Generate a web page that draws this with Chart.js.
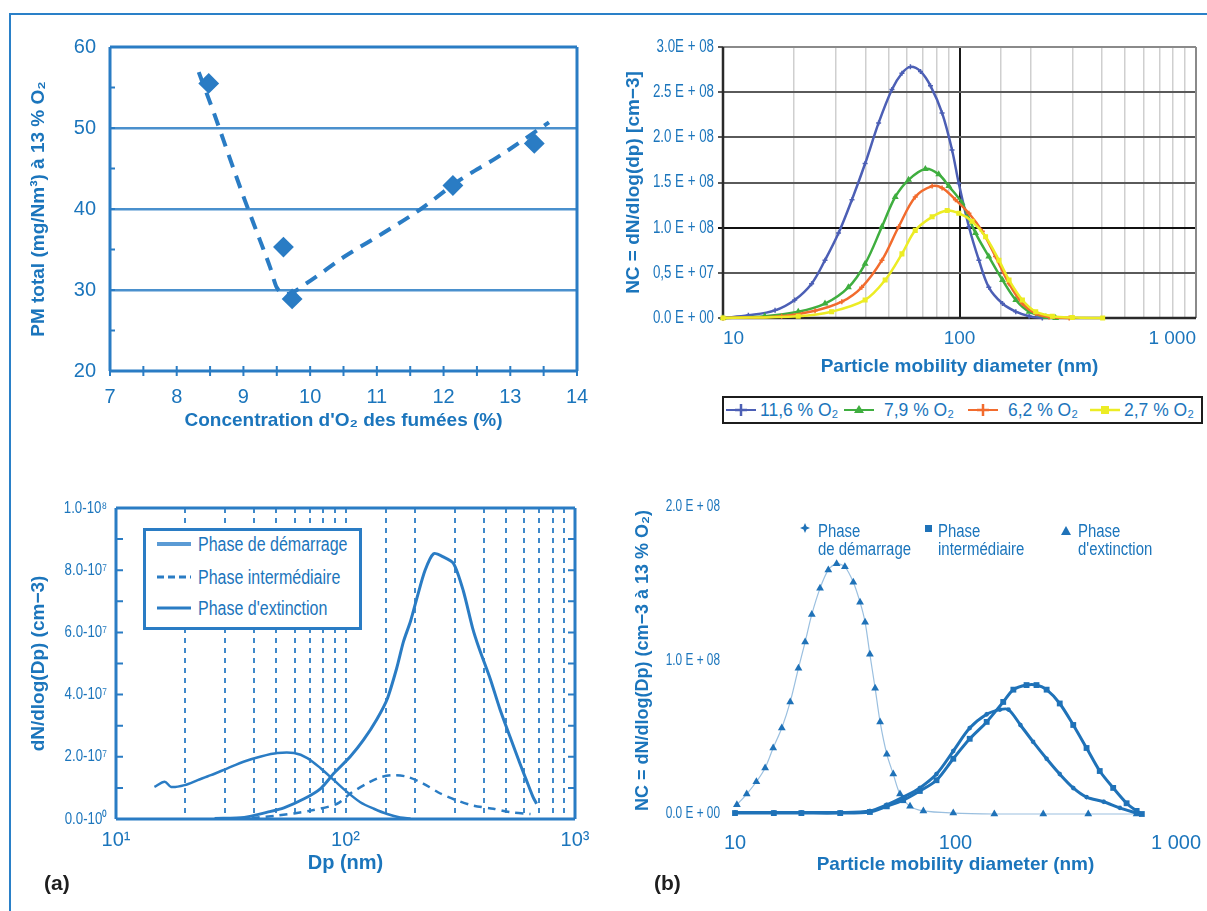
<!DOCTYPE html>
<html lang="fr">
<head>
<meta charset="utf-8">
<title>Particules fines - concentration O2</title>
<script src="https://cdn.jsdelivr.net/npm/chart.js@4.4.1/dist/chart.umd.min.js"></script>
<style>
  html, body { margin: 0; padding: 0; background: #fff; }
  #page { position: relative; width: 1207px; height: 911px; overflow: hidden; font-family: "Liberation Sans", Arial, sans-serif; }
  #page canvas { position: absolute; }
  .rule-top { position: absolute; left: 9px; top: 13px; width: 1198px; height: 2px; background: #2a80c8; }
  .rule-left { position: absolute; left: 9px; top: 13px; width: 2px; height: 898px; background: #2a80c8; }
  .tag { position: absolute; font-weight: bold; font-size: 21px; color: #1e1e1e; }
  .blue { color: #1b75bc; }
  .abs { position: absolute; white-space: nowrap; }
  #lg2 { position: absolute; left: 722px; top: 396px; width: 477px; height: 24px; border: 2px solid #1c1c1c; background: #fff; }
  #lg2 svg { position: absolute; top: 2px; }
  #lg2 span { position: absolute; top: 1px; font-size: 19px; line-height: 22px; white-space: nowrap; transform: scaleX(0.92); transform-origin: left center; }
  #lg3 { position: absolute; left: 143px; top: 528px; width: 213px; height: 96px; border: 3px solid #2a7cc4; background: #fff; }
  #lg3 svg { position: absolute; left: 11px; }
  #lg3 span { position: absolute; left: 52px; font-size: 20px; line-height: 22px; white-space: nowrap; transform: scaleX(0.8); transform-origin: left center; }
  .lg4 { position: absolute; font-size: 18px; line-height: 18px; white-space: nowrap; transform: scaleX(0.83); transform-origin: left top; }
</style>
</head>
<body>
<div id="page">
  <div class="rule-top"></div>
  <div class="rule-left"></div>

  <canvas id="c1" width="600" height="420" style="left:0;top:20px"></canvas>
  <canvas id="c2" width="607" height="380" style="left:600px;top:20px"></canvas>
  <canvas id="c3" width="600" height="430" style="left:0;top:460px"></canvas>
  <canvas id="c4" width="607" height="430" style="left:600px;top:460px"></canvas>

  <div id="lg2" class="blue">
    <svg width="30" height="20" style="left:2px"><line x1="0" y1="10" x2="30" y2="10" stroke="#4c5fb5" stroke-width="2"/><path d="M15 4 V16 M9 10 H21" stroke="#4c5fb5" stroke-width="2.5"/></svg>
    <span style="left:36px">11,6 % O₂</span>
    <svg width="30" height="20" style="left:120px"><line x1="0" y1="10" x2="30" y2="10" stroke="#3fae3f" stroke-width="2"/><path d="M15 5 L20 13 L10 13 Z" fill="#3fae3f"/></svg>
    <span style="left:160px">7,9 % O₂</span>
    <svg width="30" height="20" style="left:244px"><line x1="0" y1="10" x2="30" y2="10" stroke="#f26b2d" stroke-width="2"/><path d="M15 4 V16 M9 10 H21" stroke="#f26b2d" stroke-width="2.5"/></svg>
    <span style="left:284px">6,2 % O₂</span>
    <svg width="30" height="20" style="left:366px"><line x1="0" y1="10" x2="30" y2="10" stroke="#ecec24" stroke-width="2.5"/><rect x="11" y="6" width="8" height="8" fill="#ecec24"/></svg>
    <span style="left:400px">2,7 % O₂</span>
  </div>

  <div id="lg3" class="blue">
    <svg width="36" height="10" style="top:8px"><line x1="0" y1="5" x2="34" y2="5" stroke="#5b9bd5" stroke-width="4"/></svg>
    <span style="top:2px">Phase de démarrage</span>
    <svg width="36" height="10" style="top:41px"><line x1="0" y1="5" x2="34" y2="5" stroke="#2a7cc4" stroke-width="3" stroke-dasharray="7 4"/></svg>
    <span style="top:35px">Phase intermédiaire</span>
    <svg width="36" height="10" style="top:72px"><line x1="0" y1="5" x2="34" y2="5" stroke="#2a7cc4" stroke-width="3"/></svg>
    <span style="top:66px">Phase d'extinction</span>
  </div>

  <svg class="abs" width="12" height="12" style="left:799px;top:522px"><path d="M6 1 L7.5 4.5 L11 6 L7.5 7.5 L6 11 L4.5 7.5 L1 6 L4.5 4.5 Z" fill="#1f72b8"/></svg>
  <div class="lg4 blue" style="left:818px;top:522px">Phase<br>de démarrage</div>
  <svg class="abs" width="10" height="10" style="left:924px;top:524px"><rect x="1" y="1" width="7" height="7" fill="#1f72b8"/></svg>
  <div class="lg4 blue" style="left:938px;top:522px">Phase<br>intermédiaire</div>
  <svg class="abs" width="12" height="12" style="left:1060px;top:525px"><path d="M6 1 L11 10 L1 10 Z" fill="#1f72b8"/></svg>
  <div class="lg4 blue" style="left:1078px;top:522px">Phase<br>d'extinction</div>

  <div class="tag" style="left:44px;top:871px">(a)</div>
  <div class="tag" style="left:654px;top:871px">(b)</div>
</div>

<script>
// ---- haut gauche : PM total selon O2 des fumées ----
const o2Conc = [8.48, 9.6, 9.73, 12.14, 13.36];
const pmTotal = [55.5, 35.3, 28.9, 42.9, 48.1];
const trendO2 = [8.33, 8.56, 8.79, 9.02, 9.25, 9.40, 9.50, 9.65, 9.94, 10.51, 11.09, 11.66, 12.23, 12.81, 13.58];
const trendPm = [56.9, 51.8, 46.4, 41.1, 36.1, 32.8, 30.3, 29.5, 30.8, 34.1, 37.0, 40.0, 43.5, 46.4, 50.7];

// ---- haut droite : distributions en nombre (x 1E+08 cm-3) ----
const dp116 = [10, 12.8, 16.6, 20.1, 23.7, 27.0, 30.8, 35.1, 39.9, 45.5, 51.8, 57.1, 62.0, 68.4, 75.4, 84.4, 93.0, 99.3, 109.6, 120.8, 133, 152, 173, 197, 224];
const nc116 = [0, 0.03, 0.085, 0.20, 0.38, 0.64, 0.94, 1.31, 1.71, 2.16, 2.53, 2.71, 2.78, 2.73, 2.57, 2.27, 1.86, 1.49, 1.01, 0.64, 0.34, 0.16, 0.07, 0.02, 0];
const dp79 = [10, 15, 20.8, 27, 33.9, 39.9, 47, 53.5, 60.9, 71.7, 81.7, 90.1, 102.6, 116.9, 133, 152, 173, 197, 232, 255];
const nc79 = [0, 0.02, 0.07, 0.16, 0.34, 0.60, 1.01, 1.34, 1.53, 1.65, 1.59, 1.46, 1.27, 0.94, 0.68, 0.42, 0.20, 0.07, 0.01, 0];
const dp62 = [10, 17.7, 24.5, 31.8, 38.6, 47, 55.3, 65, 76.6, 84.4, 96.1, 109.6, 124.8, 142, 162, 184.5, 210, 239, 291];
const nc62 = [0, 0.02, 0.08, 0.18, 0.34, 0.64, 1.01, 1.34, 1.46, 1.44, 1.31, 1.16, 0.96, 0.68, 0.38, 0.16, 0.05, 0.01, 0];
const dp27 = [10, 20.8, 28.8, 39.9, 48.5, 57.1, 65, 76.6, 88.7, 99.3, 113, 128.9, 146.8, 162, 184.5, 210, 247, 300, 403];
const nc27 = [0, 0.02, 0.07, 0.20, 0.42, 0.71, 0.97, 1.12, 1.19, 1.16, 1.07, 0.90, 0.64, 0.42, 0.20, 0.07, 0.02, 0.005, 0];
const ncTickLabels = ['0.0 E + 00', '0,5 E + 07', '1.0 E + 08', '1.5 E + 08', '2.0 E + 08', '2.5 E + 08', '3.0E + 08'];
const sizeTicks = [10, 100, 1000];
const sizeTickLabels = ['10', '100', '1 000'];

// ---- (a) : phases de combustion (x 1E+07 cm-3) ----
const dpStart = [14.7, 16.3, 17.4, 19.9, 22.7, 25.9, 30.6, 36.2, 42.8, 50.5, 59.7, 68.2, 77.9, 89, 101.6, 116, 133, 152, 173, 192];
const nStart = [1.03, 1.20, 1.03, 1.09, 1.25, 1.41, 1.63, 1.85, 2.01, 2.12, 2.12, 1.96, 1.63, 1.25, 0.87, 0.54, 0.33, 0.16, 0.05, 0.02];
const dpMid = [33.9, 50.5, 70.4, 92, 105, 124, 142, 162, 185, 218, 259, 305, 360, 441, 520, 640];
const nMid = [0, 0.11, 0.27, 0.49, 0.82, 1.14, 1.34, 1.41, 1.36, 1.14, 0.82, 0.60, 0.43, 0.33, 0.22, 0.16];
const dpEnd = [26.9, 36.2, 45.7, 53.9, 66, 77.9, 89, 105, 120, 137, 152, 167, 179, 192, 205, 222, 242, 268, 296, 326, 358, 382, 427, 471, 520, 575, 614, 656, 680];
const nEnd = [0.02, 0.05, 0.22, 0.36, 0.65, 0.98, 1.47, 2.01, 2.55, 3.21, 3.86, 4.84, 5.71, 6.36, 7.12, 7.99, 8.53, 8.42, 8.21, 7.34, 6.14, 5.49, 4.51, 3.53, 2.66, 1.79, 1.25, 0.71, 0.49];
const dnTickLabels = ['0.0-10⁰', '2.0-10⁷', '4.0-10⁷', '6.0-10⁷', '8.0-10⁷', '1.0-10⁸'];
const dpTickLabels = ['10¹', '10²', '10³'];

// ---- (b) : phases a 13 % O2 (x 1E+08 cm-3) ----
const dpA = [10.2, 11.3, 12.5, 13.7, 14.9, 16.3, 17.8, 19.4, 20.8, 22.3, 24.3, 26.5, 28.9, 31.5, 34.4, 36.9, 38.9, 40.9, 43.2, 45.5, 48.8, 52.2, 56.0, 62.2, 71.5, 97.7, 150, 250, 400, 663];
const ncA = [0.06, 0.13, 0.21, 0.30, 0.43, 0.56, 0.73, 0.95, 1.12, 1.30, 1.47, 1.59, 1.63, 1.61, 1.51, 1.38, 1.25, 1.04, 0.82, 0.60, 0.39, 0.26, 0.13, 0.05, 0.02, 0.006, 0, 0, 0, 0];
const dpB = [10, 15, 20, 30, 40.9, 48.8, 57.9, 68.9, 82, 97.7, 116, 138.5, 159, 174, 197, 225, 259, 297, 342, 393, 470, 556, 663];
const ncB = [0.01, 0.01, 0.01, 0.01, 0.02, 0.06, 0.11, 0.17, 0.26, 0.41, 0.56, 0.65, 0.68, 0.68, 0.58, 0.47, 0.36, 0.26, 0.17, 0.11, 0.08, 0.04, 0.006];
const dpC = [10, 15, 20, 30, 40.9, 48.8, 57.9, 68.9, 82, 97.7, 116, 138.5, 164.6, 183, 210, 233, 259, 297, 342, 393, 451, 519, 597, 663, 700];
const ncC = [0.006, 0.006, 0.006, 0.006, 0.013, 0.05, 0.09, 0.15, 0.22, 0.36, 0.49, 0.60, 0.73, 0.81, 0.84, 0.84, 0.81, 0.72, 0.58, 0.43, 0.28, 0.17, 0.07, 0.02, 0];
const nc13TickLabels = ['0.0 E + 00', '1.0 E + 08', '2.0 E + 08'];

const BLUE = '#1b75bc';
const LINE = '#2a7cc4';
const SANS = '"Liberation Sans", Arial, sans-serif';

Chart.defaults.font.family = SANS;
Chart.defaults.color = BLUE;

function pts(xs, ys) {
    return xs.map((x, i) => ({ x: x, y: ys[i] }));
}

function labelFor(v, ticks, labels) {
    const i = ticks.findIndex(t => Math.abs(t - v) < t * 1e-6);
    return i < 0 ? '' : labels[i];
}

// fixed axis boxes so the plot areas land where the figure has them
function fixY(w) {
    return s => { s.width = w; s.paddingTop = 0; s.paddingBottom = 0; };
}
function fixX(h) {
    return s => { s.height = h; s.paddingLeft = 0; s.paddingRight = 0; };
}

// frame around the plot area + short inward ticks
const framePlugin = {
    id: 'frame',
    beforeDatasetsDraw(chart, args, opts) {
        const a = chart.chartArea;
        const ctx = chart.ctx;
        ctx.save();
        const side = (key, x1, y1, x2, y2) => {
            const s = opts[key];
            if (!s) return;
            ctx.strokeStyle = s[0];
            ctx.lineWidth = s[1];
            ctx.beginPath();
            ctx.moveTo(x1, y1);
            ctx.lineTo(x2, y2);
            ctx.stroke();
        };
        side('top', a.left, a.top, a.right, a.top);
        side('right', a.right, a.top, a.right, a.bottom);
        side('bottom', a.left, a.bottom, a.right, a.bottom);
        side('left', a.left, a.top, a.left, a.bottom);
        if (opts.tickX) {
            ctx.strokeStyle = opts.tickColor;
            ctx.lineWidth = 2;
            chart.scales.x.ticks.forEach(t => {
                const px = chart.scales.x.getPixelForValue(t.value);
                ctx.beginPath();
                ctx.moveTo(px, a.bottom - opts.tickX);
                ctx.lineTo(px, a.bottom + opts.tickX);
                ctx.stroke();
            });
        }
        if (opts.tickY) {
            ctx.strokeStyle = opts.tickColor;
            ctx.lineWidth = 2;
            chart.scales.y.ticks.forEach(t => {
                const py = chart.scales.y.getPixelForValue(t.value);
                ctx.beginPath();
                ctx.moveTo(a.left, py);
                ctx.lineTo(a.left + opts.tickY, py);
                if (opts.tickBoth) {
                    ctx.moveTo(a.right, py);
                    ctx.lineTo(a.right - opts.tickY, py);
                }
                ctx.stroke();
            });
        }
        ctx.restore();
    }
};

// y tick labels in a squeezed (narrow) face, like the scanned figure
const narrowTicks = {
    id: 'narrowTicks',
    afterDraw(chart, args, opts) {
        const s = chart.scales.y;
        const ctx = chart.ctx;
        ctx.save();
        ctx.font = opts.size + 'px ' + SANS;
        ctx.fillStyle = BLUE;
        ctx.textAlign = 'right';
        ctx.textBaseline = 'middle';
        s.ticks.forEach(t => {
            if (!t.label) return;
            ctx.save();
            ctx.translate(chart.chartArea.left - opts.gap, s.getPixelForValue(t.value));
            ctx.scale(opts.squeeze, 1);
            ctx.fillText(t.label, 0, 0);
            ctx.restore();
        });
        ctx.restore();
    }
};

const base = {
    responsive: false,
    animation: false,
    devicePixelRatio: 1,
    events: []
};

function titleFont(size) {
    return { family: SANS, size: size, weight: 'bold' };
}

// ---------- chart 1 ----------
new Chart(document.getElementById('c1'), {
    type: 'scatter',
    data: {
        datasets: [
            {
                label: 'PM total',
                data: pts(o2Conc, pmTotal),
                pointStyle: 'rectRot',
                pointRadius: 9,
                borderWidth: 2,
                backgroundColor: LINE,
                borderColor: LINE,
                showLine: false
            },
            {
                label: 'tendance',
                data: pts(trendO2, trendPm),
                showLine: true,
                borderColor: LINE,
                borderWidth: 4,
                borderDash: [13, 9],
                pointRadius: 0,
                cubicInterpolationMode: 'monotone'
            }
        ]
    },
    options: Object.assign({}, base, {
        layout: { padding: { top: 27, right: 23, left: 0, bottom: 0 } },
        plugins: {
            legend: { display: false },
            tooltip: { enabled: false },
            frame: { top: [LINE, 3], right: [LINE, 3], bottom: [LINE, 3], left: [LINE, 3], tickX: 5, tickY: 5, tickColor: LINE }
        },
        scales: {
            x: {
                type: 'linear', min: 7, max: 14,
                ticks: {
                    stepSize: 0.5, autoSkip: false, maxRotation: 0, padding: 6,
                    callback: v => Number.isInteger(v) ? String(v) : '',
                    font: { family: SANS, size: 20 }
                },
                grid: { display: false },
                border: { display: false },
                title: { display: true, text: "Concentration d'O₂ des fumées (%)", font: titleFont(19), padding: { top: 0, bottom: 8 } },
                afterFit: fixX(69)
            },
            y: {
                min: 20, max: 60,
                ticks: {
                    stepSize: 5, padding: 14,
                    callback: v => v % 10 === 0 ? String(v) : '',
                    font: { family: SANS, size: 20 }
                },
                grid: {
                    drawTicks: false,
                    lineWidth: 2.5,
                    color: c => (c.tick && c.tick.value % 10 === 0 && c.tick.value > 20 && c.tick.value < 60) ? 'rgba(42,124,196,0.85)' : 'rgba(0,0,0,0)'
                },
                border: { display: false },
                title: { display: true, text: 'PM total (mg/Nm³) à 13 % O₂', font: titleFont(19), padding: { top: 27, bottom: 0 } },
                afterFit: fixY(110)
            }
        }
    }),
    plugins: [framePlugin]
});

// ---------- chart 2 ----------
// order: yellow drawn last (on top), as in the scan
const series2 = [
    { label: '11,6 % O₂', x: dp116, y: nc116, color: '#4c5fb5', style: 'cross', order: 4 },
    { label: '7,9 % O₂', x: dp79, y: nc79, color: '#3fae3f', style: 'triangle', order: 3 },
    { label: '6,2 % O₂', x: dp62, y: nc62, color: '#f26b2d', style: 'cross', order: 2 },
    { label: '2,7 % O₂', x: dp27, y: nc27, color: '#ecec24', style: 'rect', order: 1 }
];

new Chart(document.getElementById('c2'), {
    type: 'scatter',
    data: {
        datasets: series2.map(s => ({
            label: s.label,
            data: pts(s.x, s.y),
            order: s.order,
            showLine: true,
            borderColor: s.color,
            backgroundColor: s.color,
            borderWidth: 2.5,
            pointStyle: s.style,
            pointRadius: 2.5,
            pointBorderWidth: 1.5,
            tension: 0.35,
            clip: false
        }))
    },
    options: Object.assign({}, base, {
        layout: { padding: { top: 27, right: 11, left: 0, bottom: 0 } },
        plugins: {
            legend: { display: false },
            tooltip: { enabled: false },
            frame: { top: ['#8a8a8a', 2], right: ['#8a8a8a', 2], bottom: ['#2a2a2a', 2.5], left: ['#2a2a2a', 2.5] },
            narrowTicks: { size: 18, gap: 9, squeeze: 0.74 }
        },
        scales: {
            x: {
                type: 'logarithmic', min: 10, max: 1000,
                ticks: {
                    autoSkip: false, maxRotation: 0, align: 'inner', padding: 9,
                    callback: v => labelFor(v, sizeTicks, sizeTickLabels),
                    font: { family: SANS, size: 19 }
                },
                grid: {
                    drawTicks: false,
                    color: c => {
                        const v = c.tick ? c.tick.value : 0;
                        if (Math.abs(v - 100) < 1e-6) return '#1a1a1a';
                        if (Math.abs(v - 10) < 1e-6 || Math.abs(v - 1000) < 1e-3) return 'rgba(0,0,0,0)';
                        return '#cfcfcf';
                    },
                    lineWidth: c => (c.tick && Math.abs(c.tick.value - 100) < 1e-6) ? 2 : 1.5
                },
                border: { display: false },
                title: { display: true, text: 'Particle mobility diameter (nm)', font: titleFont(19), padding: { top: 0, bottom: 22 } },
                afterFit: fixX(82)
            },
            y: {
                min: 0, max: 3,
                ticks: {
                    display: false,
                    stepSize: 0.5,
                    callback: v => ncTickLabels[Math.round(v * 2)]
                },
                grid: {
                    tickLength: 5,
                    lineWidth: 2,
                    color: c => {
                        const v = c.tick ? c.tick.value : 0;
                        if (Math.abs(v - 1) < 1e-6) return '#111';
                        return '#5a5a5a';
                    }
                },
                border: { display: false },
                title: { display: true, text: 'NC = dN/dlog(dp) [cm−3]', font: titleFont(19), padding: { top: 22, bottom: 0 } },
                afterFit: fixY(123)
            }
        }
    }),
    plugins: [framePlugin, narrowTicks]
});

// ---------- chart 3 ----------
new Chart(document.getElementById('c3'), {
    type: 'scatter',
    data: {
        datasets: [
            { label: 'Phase de démarrage', data: pts(dpStart, nStart), showLine: true, borderColor: LINE, borderWidth: 2.5, pointRadius: 0, tension: 0.3 },
            { label: 'Phase intermédiaire', data: pts(dpMid, nMid), showLine: true, borderColor: LINE, borderWidth: 2.5, borderDash: [8, 6], pointRadius: 0, tension: 0.3 },
            { label: "Phase d'extinction", data: pts(dpEnd, nEnd), showLine: true, borderColor: LINE, borderWidth: 3, pointRadius: 0, tension: 0.25 }
        ]
    },
    options: Object.assign({}, base, {
        layout: { padding: { top: 48, right: 25, left: 0, bottom: 0 } },
        plugins: {
            legend: { display: false },
            tooltip: { enabled: false },
            frame: { top: [LINE, 3], right: [LINE, 3], bottom: [LINE, 3], left: [LINE, 3], tickY: 7, tickBoth: true, tickColor: LINE },
            narrowTicks: { size: 17, gap: 9, squeeze: 0.78 }
        },
        scales: {
            x: {
                type: 'logarithmic', min: 10, max: 1000,
                ticks: {
                    autoSkip: false, maxRotation: 0, padding: 9,
                    callback: v => labelFor(v, sizeTicks, dpTickLabels),
                    font: { family: SANS, size: 20 }
                },
                grid: {
                    drawTicks: false,
                    lineWidth: 2,
                    borderDash: [5, 5],
                    color: c => {
                        const v = c.tick ? c.tick.value : 0;
                        return (v > 10.5 && v < 990) ? 'rgba(42,124,196,0.9)' : 'rgba(0,0,0,0)';
                    }
                },
                border: { display: false, dash: [5, 5] },
                title: { display: true, text: 'Dp (nm)', font: titleFont(20), padding: { top: 0, bottom: 15 } },
                afterFit: fixX(71)
            },
            y: {
                min: 0, max: 10,
                ticks: {
                    display: false,
                    stepSize: 1,
                    callback: v => v % 2 === 0 ? dnTickLabels[v / 2] : ''
                },
                grid: { display: false },
                border: { display: false },
                title: { display: true, text: 'dN/dlog(Dp) (cm−3)', font: titleFont(19), padding: { top: 27, bottom: 0 } },
                afterFit: fixY(116)
            }
        }
    }),
    plugins: [framePlugin, narrowTicks]
});

// ---------- chart 4 ----------
const P4 = '#1f72b8';
new Chart(document.getElementById('c4'), {
    type: 'scatter',
    data: {
        datasets: [
            { label: "Phase d'extinction", data: pts(dpA, ncA), showLine: true, borderColor: 'rgba(31,114,184,0.45)', borderWidth: 1.2, backgroundColor: P4, pointStyle: 'triangle', pointRadius: 4.5, pointBorderWidth: 0, tension: 0.3, clip: false },
            { label: 'Phase de démarrage', data: pts(dpB, ncB), showLine: true, borderColor: P4, borderWidth: 3, backgroundColor: P4, pointStyle: 'star', pointRadius: 2, tension: 0.3, clip: false },
            { label: 'Phase intermédiaire', data: pts(dpC, ncC), showLine: true, borderColor: P4, borderWidth: 3, backgroundColor: P4, pointStyle: 'rect', pointRadius: 2, tension: 0.3, clip: false }
        ]
    },
    options: Object.assign({}, base, {
        layout: { padding: { top: 47, right: 31, left: 0, bottom: 0 } },
        plugins: {
            legend: { display: false },
            tooltip: { enabled: false },
            narrowTicks: { size: 16, gap: 15, squeeze: 0.74 }
        },
        scales: {
            x: {
                type: 'logarithmic', min: 10, max: 1000,
                ticks: {
                    autoSkip: false, maxRotation: 0, padding: 9,
                    callback: v => labelFor(v, sizeTicks, sizeTickLabels),
                    font: { family: SANS, size: 20 }
                },
                grid: { display: false },
                border: { display: false },
                title: { display: true, text: 'Particle mobility diameter (nm)', font: titleFont(19), padding: { top: 0, bottom: 14 } },
                afterFit: fixX(76)
            },
            y: {
                min: 0, max: 2,
                ticks: {
                    display: false,
                    stepSize: 1,
                    callback: v => nc13TickLabels[Math.round(v)]
                },
                grid: { display: false },
                border: { display: false },
                title: { display: true, text: 'NC = dN/dlog(Dp) (cm−3 à 13 % O₂)', font: titleFont(18), padding: { top: 32, bottom: 0 } },
                afterFit: fixY(135)
            }
        }
    }),
    plugins: [narrowTicks]
});
</script>
</body>
</html>
